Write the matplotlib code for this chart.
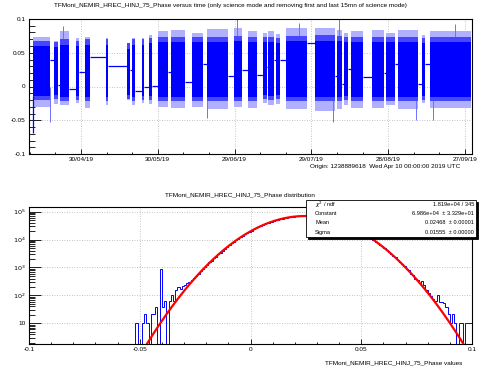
import numpy as np
import matplotlib
matplotlib.use("Agg")
import matplotlib.pyplot as plt
from matplotlib.patches import Rectangle
from matplotlib.ticker import FixedLocator, FuncFormatter, LogLocator, NullFormatter

FONT = ['Liberation Sans Narrow', 'Liberation Sans', 'DejaVu Sans']
plt.rcParams['font.family'] = FONT
plt.rcParams['mathtext.fontset'] = 'custom'
plt.rcParams['mathtext.rm'] = 'Liberation Sans Narrow'
plt.rcParams['mathtext.it'] = 'Liberation Sans Narrow:italic'

# ---------------- data : phase versus time ----------------
# days since origin (Wed Apr 10 00:00:00 2019 UTC)
block_start = [1.25, 9.45, 11.8, 18.0, 21.6, 29.8, 38.0, 39.9, 43.8, 46.6,
               50.1, 55.2, 63.4, 69.2, 79.8, 85.2, 91.1, 93.1, 96.2, 100.1,
               111.4, 120.0, 122.7, 125.5, 133.7, 139.1, 143.8, 153.2, 156.3]
block_end = [7.9, 11.0, 15.3, 19.2, 23.5, 30.5, 39.1, 41.1, 44.6, 47.7,
             54.0, 60.6, 67.7, 77.4, 82.9, 88.8, 92.7, 95.4, 97.7, 108.3,
             119.2, 121.95, 124.3, 130.1, 138.4, 142.7, 151.6, 154.4, 172.3]
core_hi = [0.060, 0.058, 0.062, 0.060, 0.062, 0.062, 0.056, 0.062, 0.062, 0.064,
           0.066, 0.066, 0.066, 0.066, 0.067, 0.066, 0.066, 0.066, 0.064, 0.067,
           0.068, 0.067, 0.066, 0.066, 0.066, 0.066, 0.066, 0.064, 0.066]
core_lo = [-0.014, -0.013, -0.015, -0.014, -0.016, -0.015, -0.012, -0.015, -0.014, -0.014,
           -0.015, -0.016, -0.015, -0.016, -0.015, -0.015, -0.012, -0.014, -0.012, -0.016,
           -0.016, -0.015, -0.014, -0.015, -0.015, -0.015, -0.015, -0.014, -0.015]
spike_hi = [0.074, 0.068, 0.082, 0.072, 0.074, 0.072, 0.064, 0.072, 0.072, 0.076,
            0.082, 0.084, 0.080, 0.085, 0.086, 0.082, 0.080, 0.082, 0.078, 0.086,
            0.086, 0.084, 0.080, 0.082, 0.084, 0.080, 0.084, 0.076, 0.082]
spike_lo = [-0.030, -0.026, -0.028, -0.024, -0.032, -0.028, -0.020, -0.028, -0.024, -0.026,
            -0.030, -0.032, -0.030, -0.034, -0.030, -0.032, -0.024, -0.028, -0.026, -0.034,
            -0.036, -0.034, -0.028, -0.032, -0.032, -0.028, -0.034, -0.024, -0.032]
gap_level = [0.040, 0.002, -0.003, 0.022, 0.043, 0.030, 0.024, -0.006, 0.000, 0.001,
             0.022, 0.006, 0.034, 0.015, 0.024, 0.017, 0.029, 0.039, 0.039, 0.064,
             0.015, 0.004, 0.026, 0.014, 0.020, 0.034, 0.004, 0.034]
first_point = (1.25, -0.069)
# isolated extreme excursions (day, value)
spike_days = [7.9, 13.0, 69.3, 81.0, 105.0, 118.5, 120.6, 150.9, 157.5, 166.0]
spike_vals = [-0.052, 0.090, -0.046, 0.100, 0.094, -0.052, 0.100, -0.049, -0.049, 0.093]

date_tick_days = [20, 50, 80, 110, 140, 170]
date_tick_labels = ["30/04/19", "30/05/19", "29/06/19", "29/07/19", "28/08/19", "27/09/19"]

# ---------------- data : phase distribution ----------------
bin_lo, bin_hi, n_bins = -0.1, 0.1, 200
counts = [0] * 48 + [
    10, 0, 0, 10, 21, 10, 0, 21, 21, 39,            # 48-57
    0, 900, 39, 63, 0, 63, 100, 63, 150, 200,       # 58-67
    170, 210, 240, 280, 300, 360, 420, 500, 590, 720,  # 68-77
    860, 1050, 1200, 1530, 1740, 2150, 2460, 2950, 3400, 4050,  # 78-87
    4620, 5500, 6150, 7300, 8100, 9500, 10500, 12200, 13400, 15300,  # 88-97
    16800, 19000, 20700, 23100, 25100, 27800, 29900, 32800, 35100, 38100,  # 98-107
    40500, 43500, 45900, 48900, 51200, 54100, 56200, 58800, 60700, 62900,  # 108-117
    64400, 66200, 67300, 68500, 69100, 69700, 69800, 69800, 69300, 68800,  # 118-127
    67700, 66600, 65100, 63500, 61500, 59500, 57200, 54900, 52300, 49800,  # 128-137
    47000, 44400, 41600, 39000, 36200, 33600, 30900, 28500, 26000, 23800,  # 138-147
    21500, 19600, 17500, 15900, 14000, 12600, 11000, 9900, 8500, 7600,     # 148-157
    6500, 5750, 4850, 4300, 3550, 3150, 2580, 2280, 1830, 1620,            # 158-167
    1280, 1150, 880, 790, 600, 540, 400, 350, 280, 330,                    # 168-177
    240, 150, 120, 95, 75, 63, 100, 58, 58, 55,                            # 178-187
    39, 21, 10, 21, 10, 0, 10, 10, 0, 10,                                  # 188-197
    10, 10]                                                                 # 198-199
fit_constant, fit_mean, fit_sigma = 6.986e4, 0.02468, 0.01555
stats_rows = [(r"$\chi^{2}$ / ndf", "1.819e+04 / 345"),
              ("Constant", "6.986e+04  ± 3.329e+01"),
              ("Mean", "0.02468  ± 0.00001"),
              ("Sigma", "0.01555  ± 0.00000")]

# ---------------- figure ----------------
W, H = 482, 375
fig = plt.figure(figsize=(W / 100, H / 100), dpi=100)
FS = 4.6
FS_STAT = 4.1
BLUE = '#0000ff'
MID = '#4646ff'
LIGHT = '#b0b0ff'


def fx(px):
    return px / W


def fy(py):
    return 1 - py / H


def style_axes(ax):
    for s in ax.spines.values():
        s.set_linewidth(0.8)
        s.set_color('black')
    ax.tick_params(which='both', direction='in', top=False, right=False,
                   labelsize=FS, width=0.6, color='black')
    ax.grid(True, which='major', color='#b0b0b0', linestyle=(0, (1, 2)), linewidth=0.6)
    ax.set_axisbelow(True)


# ---- top pad ----
ax1 = fig.add_axes([fx(29), fy(154), fx(472) - fx(29), fy(19) - fy(154)])
style_axes(ax1)
for i in range(len(block_start)):
    xs = [block_start[i], block_end[i]]
    ax1.fill_between(xs, spike_lo[i], spike_hi[i], color=LIGHT, linewidth=0, zorder=2)
    ax1.fill_between(xs, core_lo[i] - 0.006, core_hi[i] + 0.008, color=MID, linewidth=0, zorder=3)
    ax1.fill_between(xs, core_lo[i], core_hi[i], color=BLUE, linewidth=0, zorder=4)
for i in range(len(gap_level)):
    ax1.hlines(gap_level[i], block_end[i], block_start[i + 1], color=BLUE,
               linewidth=0.9, zorder=4)
ax1.vlines(first_point[0], first_point[1], core_lo[0], color=BLUE, linewidth=0.9, zorder=4)
ax1.vlines(spike_days, [0.0] * len(spike_days), spike_vals, color='#7070ff', linewidth=0.7, zorder=2.5)
ax1.set_xlim(-0.3, 172.7)
ax1.set_ylim(-0.1, 0.1)
ax1.xaxis.set_major_locator(FixedLocator(date_tick_days))
ax1.xaxis.set_minor_locator(FixedLocator([d for d in range(0, 172, 10) if d not in date_tick_days]))
ax1.set_xticklabels(date_tick_labels)
ax1.yaxis.set_major_locator(FixedLocator([-0.1, -0.05, 0, 0.05, 0.1]))
ax1.yaxis.set_minor_locator(FixedLocator(np.round(np.arange(-0.1, 0.1001, 0.01), 3)))
ax1.yaxis.set_major_formatter(FuncFormatter(lambda v, p: f"{v:g}"))
ax1.tick_params(axis='y', which='major', length=8.5, pad=2.5)
ax1.tick_params(axis='y', which='minor', length=4.3)
ax1.tick_params(axis='x', which='major', length=3.6, pad=1.8)
ax1.tick_params(axis='x', which='minor', length=1.8)

fig.text(fx(230), fy(6), "TFMoni_NEMIR_HREC_HINJ_75_Phase versus time (only science mode and removing first and last 15mn of science mode)",
         ha='center', va='center', fontsize=FS)
fig.text(fx(460), fy(166.5), "Origin: 1238889618  Wed Apr 10 00:00:00 2019 UTC",
         ha='right', va='center', fontsize=FS)

# ---- bottom pad ----
ax2 = fig.add_axes([fx(29), fy(344), fx(472) - fx(29), fy(207) - fy(344)])
style_axes(ax2)
edges = np.linspace(bin_lo, bin_hi, n_bins + 1)
vals = np.array(counts, dtype=float)
vals_draw = np.where(vals > 0, vals, 0.1)
ax2.stairs(vals_draw, edges, color=BLUE, linewidth=0.7, baseline=None, zorder=3)
xf = np.linspace(bin_lo, bin_hi, 1500)
yf = fit_constant * np.exp(-0.5 * ((xf - fit_mean) / fit_sigma) ** 2)
ax2.plot(xf, yf, color='#ff0000', linewidth=1.6, zorder=4)
ax2.set_yscale('log')
ax2.set_xlim(-0.1, 0.1)
ax2.set_ylim(1.81, 1.47e5)
ax2.xaxis.set_major_locator(FixedLocator([-0.1, -0.05, 0, 0.05, 0.1]))
ax2.xaxis.set_minor_locator(FixedLocator(np.round(np.arange(-0.1, 0.1001, 0.01), 3)))
ax2.xaxis.set_major_formatter(FuncFormatter(lambda v, p: f"{v:g}"))
ax2.yaxis.set_major_locator(FixedLocator([10, 100, 1e3, 1e4, 1e5]))
ax2.yaxis.set_minor_locator(LogLocator(base=10, subs=np.arange(2, 10)))
ax2.yaxis.set_minor_formatter(NullFormatter())


def logfmt(v, p):
    e = int(round(np.log10(v)))
    return "10" if e == 1 else r"$10^{%d}$" % e


ax2.yaxis.set_major_formatter(FuncFormatter(logfmt))
ax2.tick_params(axis='y', which='major', length=8.5, pad=2.5)
ax2.tick_params(axis='y', which='minor', length=4.3)
ax2.tick_params(axis='x', which='major', length=3.6, pad=2.5)
ax2.tick_params(axis='x', which='minor', length=1.8)

fig.text(fx(240), fy(195), "TFMoni_NEMIR_HREC_HINJ_75_Phase distribution",
         ha='center', va='center', fontsize=FS)
fig.text(fx(462), fy(363), "TFMoni_NEMIR_HREC_HINJ_75_Phase values",
         ha='right', va='center', fontsize=FS)

# stats box
bx0, bx1, by0, by1 = 306, 476, 200, 237
fig.patches.append(Rectangle((fx(bx0 + 1.5), fy(by1 + 1.5)), fx(bx1 - bx0), fy(by0) - fy(by1),
                             transform=fig.transFigure, facecolor='black', edgecolor='black',
                             linewidth=0.6, zorder=9))
fig.patches.append(Rectangle((fx(bx0), fy(by1)), fx(bx1 - bx0), fy(by0) - fy(by1),
                             transform=fig.transFigure, facecolor='white', edgecolor='black',
                             linewidth=0.6, zorder=10))
row_y = [204.5, 213.5, 222.8, 232.2]
for (lab, val), yy in zip(stats_rows, row_y):
    fig.text(fx(315), fy(yy), lab, ha='left', va='center', fontsize=FS_STAT, zorder=11)
    fig.text(fx(474), fy(yy), val, ha='right', va='center', fontsize=FS_STAT, zorder=11)

fig.savefig("out.png", dpi=100)
